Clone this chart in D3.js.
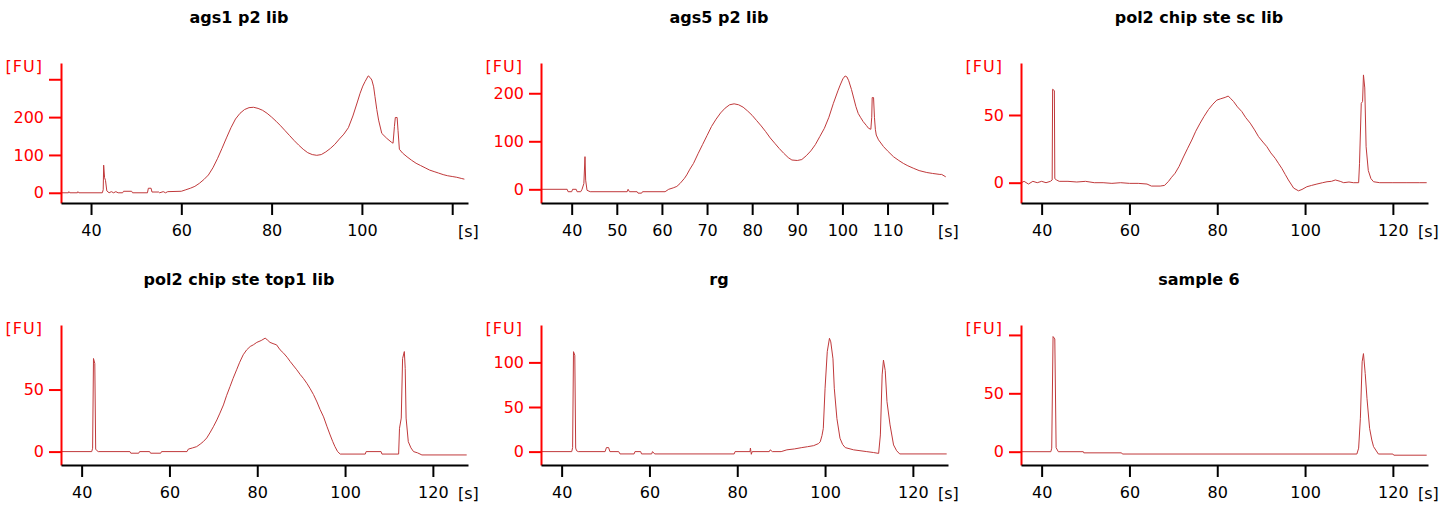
<!DOCTYPE html>
<html>
<head>
<meta charset="utf-8">
<script src="https://cdn.jsdelivr.net/npm/d3@7"></script>
<style>
  body { margin: 0; background: #fff; }
  svg { display: block; }
  text { font-family: "DejaVu Sans", Verdana, sans-serif; }
</style>
</head>
<body>
<div id="chart"></div>
<script>
// electropherogram traces, [time (s), fluorescence (FU)]
var ags1 = [[33.4,0],[35,0],[35.1,3],[35.3,0],[37,0],[37.1,3],[37.3,0],[42.5,0],[42.7,8],[42.8,73],[43.0,40],[43.2,33],[43.5,5],[44,0],[44.5,3],[45,0],[45.5,3],[46,0],[47,0],[47.2,4],[49,4],[49.2,0],[52.5,0],[52.7,12],[53.3,12],[53.5,2],[55,2],[55.2,0],[56,3],[56.5,0],[57,3],[60,4],[61,8],[62,12],[63,17],[64,25],[65,35],[66,47],[67,66],[68,90],[69,117],[70,145],[71,172],[72,195],[73,210],[74,220],[75,225],[76,226],[77,223],[78,218],[79,210],[80,200],[81,189],[82,177],[83,164],[84,151],[85,138],[86,126],[87,115],[88,106],[89,101],[90,99],[91,101],[92,108],[93,117],[94,128],[95,142],[96,155],[97,172],[98,203],[99,240],[99.6,263],[100.2,282],[100.7,294],[101.4,309],[101.8,305],[102.2,298],[102.6,280],[102.9,254],[103.3,220],[103.7,192],[104.4,157],[105.5,144],[106.5,134],[106.9,131],[107.2,175],[107.4,199],[107.8,199],[108,165],[108.3,115],[109,105],[110,95],[111,86],[112,78],[113,72],[114,66],[115,60],[116,56],[117,52],[118,48],[119,45],[120,43],[121,41],[122,38],[122.7,36]];

var ags5 = [[33.3,0],[39,0],[39.2,-5],[40,-5],[40.2,0],[41,0],[41.2,-5],[42,-5],[42.3,0],[42.7,12],[42.95,68],[43.1,19],[43.4,-2],[44.1,-5],[52.3,-5],[52.5,0],[52.8,-5],[54.5,-5],[54.7,-8],[55.5,-8],[55.7,-5],[60.7,-5],[61.5,0],[62.5,3],[63.3,6],[64,12],[65,23],[65.5,30],[66.2,42],[67,54],[68,74],[69,93],[70,112],[71,131],[72,146],[73,159],[74,169],[75,176],[76,178],[77,176],[78,171],[79,163],[80,154],[81,143],[82,132],[83,120],[84,107],[85,96],[86,85],[87,75],[88,66],[88.8,61],[90,60],[91,62],[92,70],[93,80],[94,93],[95,110],[96,127],[97,150],[98,179],[99,205],[99.5,217],[100.1,230],[100.6,236],[101,234],[101.4,226],[102,208],[102.5,190],[103,172],[103.5,158],[104,150],[104.6,141],[105.3,133],[105.8,127],[106.3,125],[106.5,150],[106.6,191],[106.9,191],[107.1,150],[107.3,125],[107.5,113],[108,103],[109.1,89],[110,80],[111.3,68],[112.5,60],[113.5,54],[114.5,49],[115.7,44],[117,39],[118.7,35],[120,33],[121.6,31],[122,31],[122.9,26]];

var pol2Sc = [[35.4,0],[36,1],[37,-1],[38,1],[39,0],[40,1],[41,0],[42,1],[42.4,2],[42.5,69],[42.9,68],[43.0,3],[43.4,2],[44,1],[46,1],[48,0.5],[50,1],[52,0],[54,0],[56,-0.5],[58,0],[60,-0.5],[62,-0.5],[64,-1],[65,-2.5],[67,-2.5],[68,-2],[68.9,1],[69.6,4],[70.4,7],[71.3,12],[72.3,19],[73.2,25],[74.2,31.5],[75.1,38],[76.1,44],[77,49],[78,54],[79,58],[79.9,61],[80.8,62],[81.8,63],[82.5,64],[83.1,62],[83.7,60],[84.6,56],[85.6,52.5],[86.5,48],[87.5,44],[88.5,39],[89.4,34],[90.4,30],[91.3,26.6],[92.2,22],[93.2,18],[94,14],[94.7,10.6],[95.5,6],[96.2,2],[96.8,-1],[97.4,-4],[98.5,-6],[99.3,-5],[100.4,-3],[101.5,-2],[102.7,-1],[104,0],[105,0.7],[106,1],[106.9,2],[108,1],[108.8,0],[110,0.5],[111,0],[112.2,0],[112.4,14],[112.8,58.6],[113.1,60],[113.3,79.6],[113.6,70],[113.9,26.6],[114.4,9],[115,3],[115.6,0.7],[117,0],[120,0],[123,0],[126,0],[127.7,0]];

var pol2Top1 = [[35.4,0],[42.3,0],[42.5,2.7],[42.7,75],[43.0,71],[43.2,2],[43.4,1],[43.8,0],[51,0],[51.2,-1.3],[53,-1.3],[53.2,0],[55.5,0],[55.7,-1.3],[58,-1.3],[58.2,0],[64,0],[64.3,2],[65.3,3],[66.2,4],[67,6],[67.7,8],[68.5,11],[69.2,15],[70,20],[70.8,25.5],[71.5,31],[72.3,37.6],[73,45],[73.8,52.4],[74.5,59],[75.3,65.9],[76,72],[76.8,78],[77.6,82],[78.4,84.7],[79.1,86],[79.9,88],[80.9,89.5],[81.8,91.4],[82.3,90],[82.9,88],[83.6,87],[84.4,86],[85.2,82],[86,79.3],[86.8,76],[87.5,72.6],[88.3,69],[89,65.9],[89.8,62],[90.5,59],[91.3,55],[92,51],[92.8,46],[93.6,40],[94.3,34],[95.1,28],[95.9,20],[96.6,13.4],[97.2,8],[97.7,4],[98.3,0],[98.9,-2],[104.6,-2],[104.8,0],[108.2,0],[108.4,-2],[112.2,-2],[112.4,18.8],[112.8,27],[113.1,75],[113.5,80.6],[113.7,67],[113.9,27],[114.4,8],[115,3],[115.6,0],[116.5,-1],[117.5,-2.7],[127.7,-2.7]];

var rg = [[35.4,0],[42.3,0],[42.5,4.5],[42.7,112],[43.0,108],[43.2,4],[43.4,1],[43.8,0],[49.9,0],[50.2,4.5],[50.7,4.5],[51,0],[53,0],[53.3,-2.6],[56.5,-2.6],[56.7,0],[58,0],[58.2,-2.6],[60.5,-2.6],[60.7,0],[61.2,-2.6],[79.3,-2.6],[79.5,0],[82.9,0],[83,4],[83.2,-3],[83.4,0],[87.3,0],[87.5,2],[88,0],[90,0],[91.3,2],[93,3],[94.7,4.5],[96,5.5],[97.4,6.7],[98.5,9],[98.9,11],[99.3,18],[99.6,26],[100,71],[100.5,112],[101,127],[101.3,123],[101.8,104],[102.1,71],[102.7,37],[103.4,15],[104,8],[104.6,4.5],[106.5,2],[109.5,0],[111,-1],[112.2,-2],[112.6,18.7],[113,86],[113.3,102.6],[113.7,91],[114.1,56],[114.8,30],[115.6,7.5],[116.3,1],[117,-2.6],[127.7,-2.6]];

var sample6 = [[35.4,0],[42.1,0],[42.3,3],[42.6,98.6],[43.0,96.6],[43.3,3.4],[43.8,0],[49.5,0],[49.6,-1],[58.2,-1],[58.4,-2],[111.8,-2],[112.2,3],[112.6,28.6],[113,77],[113.3,84],[113.7,67],[114.1,45.7],[114.7,20],[115.2,10],[115.6,4.3],[116.7,-2],[120,-2],[120.2,-3],[127.7,-3]];

var titles = ["ags1 p2 lib", "ags5 p2 lib", "pol2 chip ste sc lib",
              "pol2 chip ste top1 lib", "rg", "sample 6"];
var traces = [ags1, ags5, pol2Sc, pol2Top1, rg, sample6];

// axis ranges and tick values of each panel
var xDomains = [[33.35, 123.5], [33.2, 123.4], [35.3, 128], [35.3, 128], [35.3, 128], [35.3, 128]];
var yDomains = [[-27, 343], [-28.5, 263], [-15, 88.4], [-10.8, 102], [-15, 141.9], [-11.4, 108.5]];
var xTicks = [[40, 60, 80, 100, 120], [40, 50, 60, 70, 80, 90, 100, 110, 120],
              [40, 60, 80, 100, 120], [40, 60, 80, 100, 120],
              [40, 60, 80, 100, 120], [40, 60, 80, 100, 120]];
var yTicks = [[0, 100, 200, 300], [0, 100, 200], [0, 50], [0, 50], [0, 50, 100], [0, 50, 100]];

var svgWidth = 1455;
var svgHeight = 507;
var cellWidth = 480;
var rowHeight = 262;

var margin = { top: 63, left: 61 };
var plotWidth = 407;
var plotHeight = 140;

var red = "#ff0000";
var traceColor = "#c0393b";

var svg = d3.select("#chart")
  .append("svg")
  .attr("width", svgWidth)
  .attr("height", svgHeight);

titles.forEach(function(title, i) {
  var col = i % 3;
  var row = Math.floor(i / 3);
  var cell = svg.append("g")
    .attr("transform", `translate(${col * cellWidth}, ${row * rowHeight})`);

  cell.append("text")
    .attr("x", 239)
    .attr("y", 23)
    .attr("text-anchor", "middle")
    .attr("font-size", "16px")
    .attr("font-weight", "bold")
    .attr("fill", "#000")
    .text(title);

  var chartGroup = cell.append("g")
    .attr("transform", `translate(${margin.left}, ${margin.top})`);

  var x = d3.scaleLinear().domain(xDomains[i]).range([0, plotWidth]);
  var y = d3.scaleLinear().domain(yDomains[i]).range([plotHeight, 0]);

  // trace
  var line = d3.line()
    .x(d => x(d[0]))
    .y(d => y(d[1]));

  chartGroup.append("path")
    .datum(traces[i])
    .attr("fill", "none")
    .attr("stroke", traceColor)
    .attr("stroke-width", 1)
    .attr("d", line);

  // unit labels
  var fuLabel = chartGroup.append("text")
    .attr("x", -18)
    .attr("y", 9)
    .attr("text-anchor", "end")
    .attr("font-size", "16px")
    .attr("letter-spacing", "1px")
    .attr("fill", red)
    .text("[FU]");

  var sLabel = chartGroup.append("text")
    .attr("x", plotWidth - 10)
    .attr("y", plotHeight + 34)
    .attr("font-size", "16px")
    .attr("fill", "#000")
    .text("[s]");

  // y axis (red)
  var yAxis = chartGroup.append("g")
    .call(d3.axisLeft(y).tickValues(yTicks[i]).tickSize(12).tickSizeOuter(0).tickPadding(5));
  yAxis.select(".domain").attr("stroke", red).attr("stroke-width", 2);
  yAxis.selectAll(".tick line").attr("stroke", red).attr("stroke-width", 2);
  yAxis.selectAll(".tick text")
    .attr("fill", red)
    .attr("font-size", "16px")
    .attr("font-family", null);

  // x axis (black)
  var xAxis = chartGroup.append("g")
    .attr("transform", `translate(0, ${plotHeight})`)
    .call(d3.axisBottom(x).tickValues(xTicks[i]).tickFormat(d3.format("d"))
      .tickSize(12).tickSizeOuter(0).tickPadding(10));
  xAxis.select(".domain").attr("stroke", "#000").attr("stroke-width", 2);
  xAxis.selectAll(".tick line").attr("stroke", "#000").attr("stroke-width", 2);
  xAxis.selectAll(".tick text")
    .attr("fill", "#000")
    .attr("font-size", "16px")
    .attr("font-family", null);

  // drop tick labels that would run into the unit labels
  var sLeft = sLabel.node().getBBox().x;
  xAxis.selectAll(".tick text").each(function(d) {
    var half = this.getComputedTextLength() / 2;
    if (x(d) + half > sLeft - 3) d3.select(this).remove();
  });
  var fuBottom = fuLabel.node().getBBox();
  fuBottom = fuBottom.y + fuBottom.height;
  yAxis.selectAll(".tick text").each(function(d) {
    if (y(d) - 8 < fuBottom - 2) d3.select(this).remove();
  });
});
</script>
</body>
</html>
